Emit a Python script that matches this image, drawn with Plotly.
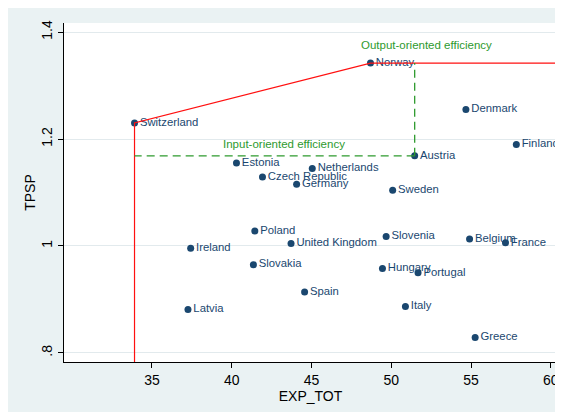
import plotly.graph_objects as go

countries = ["Switzerland", "Norway", "Denmark", "Finland", "Austria", "Netherlands",
             "Germany", "Sweden", "Estonia", "Czech Republic", "Poland", "Ireland",
             "Slovakia", "Latvia", "United Kingdom", "Slovenia", "Belgium", "France",
             "Hungary", "Portugal", "Spain", "Italy", "Greece"]
exp_tot = [33.91, 48.70, 54.68, 57.84, 51.47, 45.05,
           44.07, 50.09, 40.30, 41.93, 41.45, 37.43,
           41.36, 37.26, 43.72, 49.68, 54.91, 57.16,
           49.45, 51.68, 44.57, 50.89, 55.26]
tpsp = [1.230, 1.342, 1.255, 1.190, 1.1685, 1.145,
        1.1156, 1.104, 1.155, 1.129, 1.028, 0.9957,
        0.965, 0.881, 1.0045, 1.0175, 1.013, 1.006,
        0.958, 0.950, 0.914, 0.887, 0.829]

x_ticks = [35, 40, 45, 50, 55, 60]
y_ticks = [0.8, 1.0, 1.2, 1.4]
y_tick_labels = [".8", "1", "1.2", "1.4"]
x_range = [29.49, 60.39]
y_range = [0.783, 1.417]

NAVY = "#1a476f"
RED = "#ff1010"
GREEN = "#2e9a2e"
BG = "#eaf2f3"
FONT = "Liberation Sans, Arial, sans-serif"

data = dict(zip(countries, zip(exp_tot, tpsp)))
sw_x, sw_y = data["Switzerland"]
no_x, no_y = data["Norway"]
au_x, au_y = data["Austria"]

fig = go.Figure()

fig.add_trace(go.Scatter(
    x=exp_tot, y=tpsp, mode="markers+text", text=countries,
    textposition="middle right",
    marker=dict(color=NAVY, size=7),
    textfont=dict(color=NAVY, size=11.3, family=FONT),
    cliponaxis=False, showlegend=False, hoverinfo="skip"))

# frontier
fig.add_trace(go.Scatter(
    x=[sw_x, sw_x, no_x, x_range[1]],
    y=[y_range[0], sw_y, no_y, no_y],
    mode="lines", line=dict(color=RED, width=1.2),
    showlegend=False, hoverinfo="skip"))

# efficiency arrows (dashed)
fig.add_trace(go.Scatter(
    x=[au_x, sw_x], y=[au_y, au_y], mode="lines",
    line=dict(color=GREEN, width=1.3, dash="8px,5px"),
    showlegend=False, hoverinfo="skip"))
fig.add_trace(go.Scatter(
    x=[au_x, au_x], y=[au_y, no_y], mode="lines",
    line=dict(color=GREEN, width=1.3, dash="8px,5px"),
    showlegend=False, hoverinfo="skip"))

fig.add_annotation(x=sw_x, y=au_y, ax=3, ay=0, text="", showarrow=True,
                   arrowhead=5, arrowsize=1.3, arrowwidth=1.2, arrowcolor=GREEN,
                   standoff=0)
fig.add_annotation(x=au_x, y=no_y, ax=0, ay=3, text="", showarrow=True,
                   arrowhead=5, arrowsize=1.3, arrowwidth=1.2, arrowcolor=GREEN,
                   standoff=0)

fig.add_annotation(x=43.28, y=au_y, text="Input-oriented efficiency", showarrow=False,
                   xanchor="center", yanchor="bottom", yshift=4,
                   font=dict(color=GREEN, size=11.5, family=FONT))
fig.add_annotation(x=52.19, y=no_y, text="Output-oriented efficiency", showarrow=False,
                   xanchor="center", yanchor="bottom", yshift=10,
                   font=dict(color=GREEN, size=11.5, family=FONT))

fig.update_xaxes(range=x_range, tickvals=x_ticks, showgrid=False, zeroline=False,
                 showline=True, linecolor="black", linewidth=1,
                 ticks="outside", ticklen=5, tickcolor="black",
                 tickfont=dict(size=14, family=FONT, color="black"),
                 title=dict(text="EXP_TOT", font=dict(size=14, family=FONT, color="black"),
                            standoff=0))
fig.update_yaxes(range=y_range, tickvals=y_ticks, ticktext=y_tick_labels, tickangle=-90,
                 showgrid=True, gridcolor="#e2eaed", gridwidth=1, zeroline=False,
                 showline=True, linecolor="black", linewidth=1,
                 ticks="outside", ticklen=5, tickcolor="black",
                 tickfont=dict(size=14, family=FONT, color="black"),
                 title=dict(text="TPSP", font=dict(size=14, family=FONT, color="black"),
                            standoff=0))

fig.update_layout(width=563, height=412,
                  margin=dict(l=56, r=12, t=14, b=58),
                  paper_bgcolor=BG, plot_bgcolor="white",
                  font=dict(family=FONT))

fig.write_html("out.html")
